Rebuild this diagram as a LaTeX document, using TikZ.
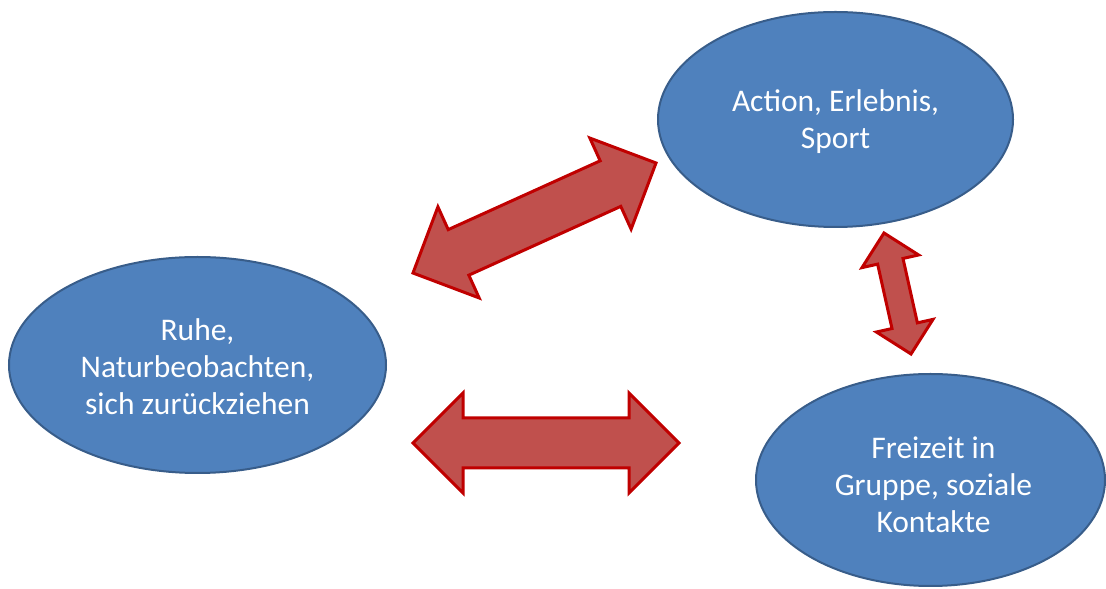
\documentclass[tikz,border=0pt]{standalone}
\usepackage{fontspec}
\setmainfont{Carlito}
\usetikzlibrary{shapes.geometric}
\definecolor{ellfill}{HTML}{4F81BD}
\definecolor{elldraw}{HTML}{385D8A}
\definecolor{arrfill}{HTML}{C0504D}
\definecolor{arrdraw}{HTML}{C00000}
\tikzset{
  bubble/.style={ellipse, fill=ellfill, draw=elldraw, line width=2pt,
    inner sep=0pt},
  bubbletext/.style={align=center, text=white, inner sep=0pt,
    font=\fontsize{31.5}{37}\selectfont},
  blockarrow/.style={fill=arrfill, draw=arrdraw, line width=3pt, line join=miter},
  pics/dblarrow/.style n args={4}{code={%
    % #1 total length, #2 shaft half width, #3 head half width, #4 head length
    \path[blockarrow] ({-#1/2},0) -- ({-#1/2+#4},#3) -- ({-#1/2+#4},#2)
      -- ({#1/2-#4},#2) -- ({#1/2-#4},#3) -- ({#1/2},0)
      -- ({#1/2-#4},-#3) -- ({#1/2-#4},-#2) -- ({-#1/2+#4},-#2)
      -- ({-#1/2+#4},-#3) -- cycle;
  }}
}
\begin{document}
\begin{tikzpicture}[x=1pt,y=1pt]
  \path[use as bounding box, fill=white] (0,0) rectangle (1106,589);
  % ellipses
  \node[bubble, minimum width=355pt, minimum height=215pt] (action) at (835.5,469.5) {};
  \node[bubbletext] (actiontext) at ([yshift=-2pt]action.center)
    {Action, Erlebnis,\\Sport};
  \node[bubble, minimum width=377pt, minimum height=216pt] (ruhe) at (197.5,224) {};
  \node[bubbletext] (ruhetext) at ([yshift=-2pt]ruhe.center)
    {Ruhe,\\Naturbeobachten,\\sich zurückziehen};
  \node[bubble, minimum width=349pt, minimum height=212pt] (freizeit) at (930.5,109) {};
  \node[bubbletext] (freizeittext) at ([xshift=3pt,yshift=-5pt]freizeit.center)
    {Freizeit in\\Gruppe, soziale\\Kontakte};
  % block arrows
  \pic[rotate=24.36] (a1) at (534.5,371) {dblarrow={266.8}{25}{50}{50}};
  \pic (a2) at (546,146) {dblarrow={266}{25}{50}{50}};
  \pic[rotate=-77.4] (a3) at (897.5,295.5) {dblarrow={124}{13}{29}{29}};
\end{tikzpicture}
\end{document}
